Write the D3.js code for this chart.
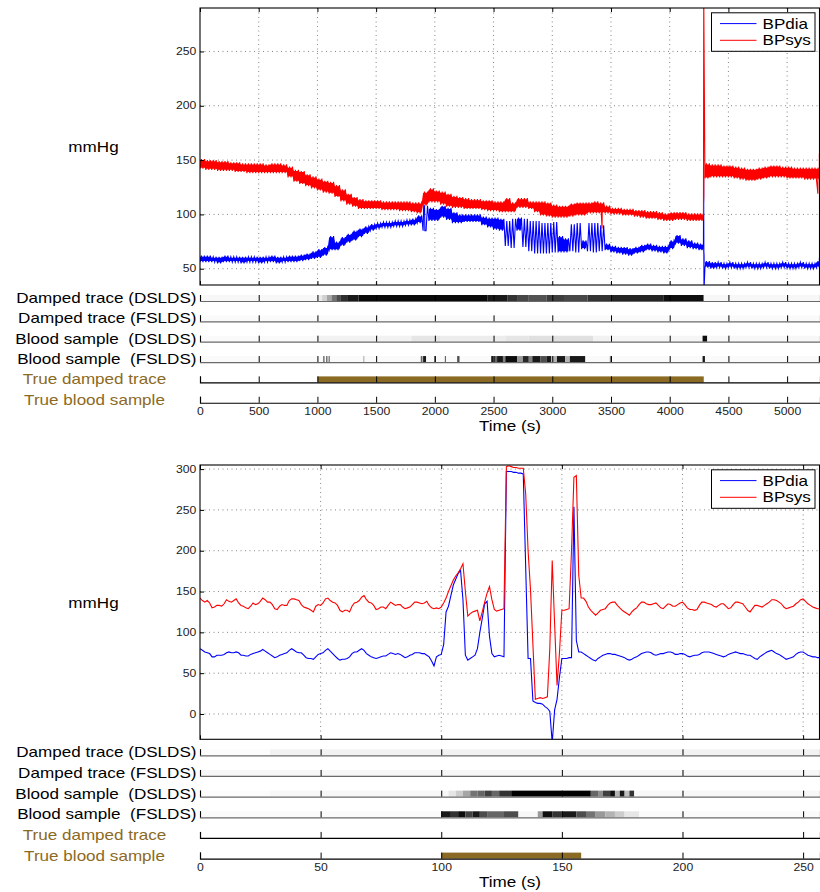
<!DOCTYPE html>
<html>
<head>
<meta charset="utf-8">
<script src="https://cdn.jsdelivr.net/npm/d3@7"></script>
<style>
  body { margin: 0; background: #fff; }
  svg { display: block; }
  text { font-family: "Liberation Sans", Arial, sans-serif; }
</style>
</head>
<body>
<div id="viz"></div>
<script>
// ---------- top panel: whole record, min/max per 50 s bin ----------
const topBin = 50; // seconds per bin
const sysLo = [142,141,141,140,140,140,139,139,138,138,138,138,138,138,138,134,130,128,126,124,
  122,120,119,116,112,109,107,105,105,105,105,104,104,104,103,103,102,101,108,111,
  111,109,107,106,106,105,105,105,104,103,103,102,102,102,106,106,105,102,99,98,
  97,97,97,98,99,99,101,101,101,101,100,100,99,99,98,97,96,96,95,94,
  94,95,95,94,94,94,133,134,134,134,134,133,132,131,131,132,133,134,134,134,
  133,133,133,132,132,132];
const sysHi = [151,150,150,149,149,148,148,147,147,147,147,146,147,147,146,144,141,140,137,135,
  133,131,130,127,123,119,116,114,113,113,113,112,112,112,112,112,111,111,121,124,
  122,121,119,117,116,115,114,114,113,113,112,112,115,111,115,115,112,112,112,111,
  109,108,108,110,111,111,111,112,111,108,106,106,105,105,104,104,103,103,102,101,
  102,102,102,101,101,101,147,146,146,145,145,144,143,142,142,143,144,145,145,144,
  144,143,143,143,143,143];
const diaLo = [56,56,56,55,56,56,56,55,56,56,55,56,56,55,56,56,56,57,58,59,
  60,62,67,67,71,74,76,79,82,85,87,88,88,89,89,90,90,92,85,94,
  94,97,95,92,92,93,93,93,90,88,86,85,71,69,85,70,66,64,64,64,
  65,65,65,66,65,68,66,65,66,67,65,64,63,62,64,65,67,66,65,64,
  68,73,71,69,68,67,51,50,51,50,51,50,50,51,50,50,51,50,50,51,
  50,50,51,50,50,51];
const diaHi = [62,62,61,61,62,61,61,61,61,61,61,61,62,61,61,62,62,63,64,66,
  68,70,80,75,79,82,85,87,89,91,92,93,93,94,94,95,96,99,108,106,
  105,108,106,102,100,100,100,100,98,97,97,96,94,96,97,96,94,94,92,92,
  93,80,78,91,92,76,92,92,90,73,71,70,70,69,70,72,73,72,71,71,
  76,81,78,76,74,73,57,56,56,55,56,55,55,56,55,55,56,55,55,56,
  55,55,56,55,55,57];
// isolated spikes [time s, mmHg]
const sysSpikes = [[3424, 87], [4290, 300], [5262, 119], [5275, 156]];
const diaSpikes = [[1905, 108], [1915, 85], [4289, 133], [4292, 30], [5275, 60]];

// state probabilities, segments [from s, to s, darkness]
const topDampedDS = [[0,1000,0.03],[1000,1040,0.08],[1040,1080,0.18],[1080,1120,0.35],[1120,1160,0.55],
  [1160,1200,0.7],[1200,1260,0.82],[1260,1350,0.9],[1350,2450,0.96],[2450,2620,0.9],[2620,2700,0.8],
  [2700,2800,0.72],[2800,2950,0.68],[2950,3100,0.76],[3100,3300,0.72],[3300,3500,0.8],[3500,3950,0.86],
  [3950,4290,0.94],[4290,5280,0.03]];
const topDampedFS = [[0,5280,0.02]];
const topBloodDS = [[0,1000,0.02],[1000,1800,0.05],[1800,2050,0.1],[2050,2600,0.07],[2600,2800,0.1],
  [2800,3350,0.12],[3350,3500,0.05],[3500,4280,0.04],[4280,4320,0.95],[4320,5280,0.03]];
const topBloodFS = [[0,5280,0.02],[1050,1060,0.7],[1075,1085,0.7],[1095,1105,0.6],[1390,1400,0.3],
  [1880,1895,0.6],[1900,1925,0.9],[1995,2005,0.7],[2085,2095,0.6],[2190,2210,0.7],
  [2480,2500,0.9],[2500,2530,0.6],[2530,2580,0.9],[2580,2600,0.5],[2600,2700,0.95],[2700,2750,0.4],
  [2750,2800,0.85],[2800,2830,0.5],[2830,2900,0.9],[2900,2950,0.7],[2950,2990,0.9],[2990,3040,0.3],
  [3040,3110,0.9],[3110,3150,0.3],[3150,3280,0.9],[3490,3505,0.5],[4280,4300,0.9],[5270,5280,0.9]];
const topTrueDamped = [[1000, 4290]];
const topTrueBlood = [];

// ---------- bottom panel: zoom, one value per second ----------
const zoomSys = [
  142,139,137,139,136,130,131,133,133,132, 135,140,138,137,139,141,136,133,132,130,
  129,132,136,134,135,138,142,140,137,137, 134,129,128,132,134,133,133,139,141,141,
  140,139,134,131,130,129,127,125,132,134, 133,136,141,142,139,137,136,133,127,125,
  127,127,125,132,136,137,139,143,145,140, 137,136,133,128,129,131,131,129,133,137,
  135,133,134,134,131,129,130,131,134,137, 137,136,135,136,138,133,130,129,130,129,
  131,136,142,150,157,164,169,173,178,184, 150,120,123,125,126,127,114,125,137,148,
  156,140,128,126,127,128,129,303,304,303, 302,302,301,301,301,270,200,152,85,18,
  19,20,19,20,21,80,188,110,35,75, 127,127,128,129,200,290,292,170,142,142,
  138,131,127,124,121,124,127,128,129,133, 136,137,137,133,130,127,125,123,121,125,
  128,130,134,137,137,135,134,134,135,136, 133,130,129,132,135,134,132,132,134,136,
  137,134,130,128,128,127,128,133,137,137, 136,135,134,132,131,133,135,135,132,129,
  130,134,137,137,136,135,131,127,125,129, 133,133,132,131,133,135,137,140,140,139,
  137,135,131,129,130,131,132,135,137,140, 141,138,135,133,131,130,129,129];
const zoomDia = [
  80,78,76,75,74,70,70,72,72,72, 73,75,76,75,75,76,75,72,72,71,
  71,73,74,75,76,77,79,77,75,73, 71,69,70,72,73,74,75,78,80,78,
  76,75,75,72,69,68,68,67,70,73, 74,75,78,80,77,74,71,68,66,67,
  67,68,70,74,76,76,78,80,78,74, 72,70,69,68,69,70,71,71,73,75,
  74,73,74,73,71,69,70,72,73,75, 75,75,74,74,72,70,65,59,70,72,
  73,85,125,132,145,158,165,172,176,140, 72,66,68,70,72,80,100,117,135,138,
  95,74,70,71,72,71,70,297,297,297, 296,296,295,295,294,180,68,68,16,14,
  13,13,12,9,7,3,-35,5,18,45, 68,68,68,69,69,254,90,76,76,74,
  72,70,68,66,65,68,70,72,73,74, 74,73,73,72,71,70,69,67,66,67,
  69,70,72,74,75,76,76,75,73,72, 73,74,74,75,76,76,75,73,73,74,
  74,73,71,70,71,72,72,73,75,76, 76,76,75,74,73,72,71,70,71,73,
  74,75,76,75,74,74,73,72,72,70, 68,67,70,72,74,76,77,78,76,74,
  73,71,69,67,68,69,70,73,75,76, 76,74,72,71,70,70,69,69];

const zoomDampedDS = [[0,29,0.01],[29,257,0.05]];
const zoomDampedFS = [[0,257,0.03]];
const zoomBloodDS = [[0,29,0.01],[29,103,0.03],[103,106,0.1],[106,109,0.2],[109,112,0.35],[112,115,0.55],
  [115,118,0.6],[118,121,0.75],[121,124,0.6],[124,129,0.8],[129,162,1.0],[162,165,0.6],[165,167,0.45],
  [167,170,0.75],[170,172,0.95],[172,174,0.3],[174,176,0.9],[176,178,0.25],[178,180,0.8],[180,257,0.03]];
const zoomBloodFS = [[0,100,0.02],[100,104,0.9],[104,107,0.8],[107,110,0.95],[110,113,0.75],[113,116,0.9],
  [116,119,0.7],[119,126,0.6],[126,132,0.7],[132,140,0.03],[140,142,0.4],[142,146,0.95],[146,150,0.8],
  [150,156,0.9],[156,160,0.7],[160,164,0.55],[164,168,0.4],[168,172,0.3],[172,176,0.2],[176,182,0.1],
  [182,257,0.02]];
const zoomTrueDamped = [];
const zoomTrueBlood = [[100, 158]];

const stripNames = ["Damped trace (DSLDS)", "Damped trace (FSLDS)", "Blood sample  (DSLDS)",
  "Blood sample  (FSLDS)", "True damped trace", "True blood sample"];
const seriesNames = ["BPdia", "BPsys"];
const topXTicks = d3.range(0, 5001, 500);
const topYTicks = [50, 100, 150, 200, 250];
const zoomXTicks = [0, 50, 100, 150, 200, 250];
const zoomYTicks = [0, 50, 100, 150, 200, 250, 300];

// ---------- drawing ----------
var SX = 1.22; // text in the figure is a bit wide
var brown = "#8b6a24";
var colDia = "#0000ff", colSys = "#ff0000";
var svg = d3.select("#viz").append("svg").attr("width", 820).attr("height", 892);

function stext(g, x, y, s, anchor, size, color) {
  return g.append("text")
    .attr("transform", "translate(" + x + "," + y + ") scale(" + SX + ",1)")
    .attr("text-anchor", anchor)
    .style("font-size", size + "px")
    .style("fill", color || "#000")
    .style("white-space", "pre")
    .text(s);
}

// zig-zag through the min/max of each bin, plus isolated spikes
function envelope(lo, hi, bin, spikes) {
  var pts = [];
  lo.forEach(function (v, i) {
    var t = i * bin;
    pts.push([t, v], [t + bin / 4, hi[i]], [t + bin / 2, v], [t + 3 * bin / 4, hi[i]]);
  });
  spikes.forEach(function (s) { pts.push(s); });
  pts.sort(function (a, b) { return a[0] - b[0]; });
  return pts;
}

// filled min/max band (left open where the signal is spiky)
function band(lo, hi, bin) {
  var pts = [];
  lo.forEach(function (v, i) {
    pts.push([i * bin, v, hi[i]], [i * bin + 0.75 * bin, v, hi[i]]);
  });
  return pts;
}

function drawPanel(cfg) {
  var g = svg.append("g");
  var x = d3.scaleLinear().domain(cfg.xDomain).range([200, 820]);
  var y = d3.scaleLinear().domain(cfg.yDomain).range([cfg.bottom, cfg.top]);

  var clipId = "clip" + cfg.id;
  g.append("clipPath").attr("id", clipId).append("rect")
    .attr("x", 200).attr("y", cfg.top).attr("width", 620).attr("height", cfg.bottom - cfg.top);

  // dotted grid
  var grid = g.append("g").attr("stroke", "#666").attr("stroke-width", 0.8)
    .attr("stroke-dasharray", "1,3.5");
  grid.selectAll(".gx").data(cfg.xTicks.filter(function (d) { return d > cfg.xDomain[0]; }))
    .enter().append("line")
    .attr("x1", function (d) { return x(d); }).attr("x2", function (d) { return x(d); })
    .attr("y1", cfg.top).attr("y2", cfg.bottom);
  grid.selectAll(".gy").data(cfg.yTicks).enter().append("line")
    .attr("x1", 200).attr("x2", 820)
    .attr("y1", function (d) { return y(d); }).attr("y2", function (d) { return y(d); });

  // traces
  var line = d3.line().x(function (d) { return x(d[0]); }).y(function (d) { return y(d[1]); });
  var area = d3.area()
    .defined(function (d) { return d[2] - d[1] <= 15; })
    .x(function (d) { return x(d[0]); })
    .y0(function (d) { return y(d[1] + 1); })
    .y1(function (d) { return y(d[2] - 1); });
  var traces = g.append("g").attr("clip-path", "url(#" + clipId + ")");
  [[cfg.diaBand, cfg.dia, colDia], [cfg.sysBand, cfg.sys, colSys]].forEach(function (s) {
    if (s[0]) traces.append("path").attr("d", area(s[0])).attr("fill", s[2]);
    traces.append("path").attr("d", line(s[1])).attr("fill", "none")
      .attr("stroke", s[2]).attr("stroke-width", cfg.lw);
  });

  // box and inward ticks
  g.append("rect").attr("x", 200).attr("y", cfg.top).attr("width", 619.5)
    .attr("height", cfg.bottom - cfg.top).attr("fill", "none").attr("stroke", "#000").attr("stroke-width", 1.1);
  g.append("g").attr("transform", "translate(0," + cfg.bottom + ")")
    .call(d3.axisBottom(x).tickValues(cfg.xTicks).tickSize(-4).tickSizeOuter(0).tickFormat(""))
    .select(".domain").remove();
  g.append("g").attr("transform", "translate(0," + cfg.top + ")")
    .call(d3.axisTop(x).tickValues(cfg.xTicks).tickSize(-4).tickSizeOuter(0).tickFormat(""))
    .select(".domain").remove();
  var ya = g.append("g").attr("transform", "translate(200,0)")
    .call(d3.axisLeft(y).tickValues(cfg.yTicks).tickSize(-4).tickSizeOuter(0).tickPadding(3));
  ya.select(".domain").remove();
  ya.attr("font-family", null).attr("font-size", null);
  ya.selectAll("text").attr("transform", "scale(" + SX + ",1)").style("font-size", "10px").style("fill", "#222");

  stext(g, 93.5, (cfg.top + cfg.bottom) / 2 + 5.5, "mmHg", "middle", 14);

  // legend
  var lg = g.append("g").attr("transform", "translate(711.5," + (cfg.top + 4.8) + ")");
  lg.append("rect").attr("width", 103.5).attr("height", 38.5).attr("fill", "#fff")
    .attr("stroke", "#000").attr("stroke-width", 1);
  [colDia, colSys].forEach(function (c, i) {
    var yy = 10.8 + i * 16.7;
    lg.append("line").attr("x1", 8.5).attr("x2", 45).attr("y1", yy).attr("y2", yy)
      .attr("stroke", c).attr("stroke-width", 1);
    stext(lg, 51, yy + 5, seriesNames[i], "start", 14);
  });

  // state strips
  cfg.strips.forEach(function (segs, r) {
    var yb = cfg.bottom + 16 + r * cfg.gap;
    var sg = g.append("g");
    var isTrue = r >= 4;
    sg.selectAll("rect").data(segs).enter().append("rect")
      .attr("x", function (d) { return x(d[0]); })
      .attr("width", function (d) { return Math.max(0.8, x(Math.min(d[1], cfg.xDomain[1])) - x(d[0])); })
      .attr("y", yb - 6).attr("height", 6)
      .attr("fill", function (d) {
        if (isTrue) return brown;
        var v = Math.round(255 * (1 - d[2]));
        return d3.rgb(v, v, v);
      });
    var ax = sg.append("g").attr("transform", "translate(0," + yb + ")")
      .call(d3.axisBottom(x).tickValues(cfg.xTicks).tickSize(-6).tickSizeOuter(-6).tickPadding(5)
        .tickFormat(r === 5 ? d3.format("d") : ""));
    ax.attr("font-family", null).attr("font-size", null);
    ax.select(".domain").attr("stroke", isTrue ? "#000" : "#6a6a6a").attr("stroke-width", 1.2);
    ax.selectAll("text").attr("transform", "scale(" + SX + ",1)").style("font-size", "10px").style("fill", "#222");
    if (isTrue) stext(g, 94.5, yb + 2, stripNames[r], "middle", 14, brown);
    else stext(g, 196.5, yb + 2, stripNames[r], "end", 14);
  });

  var lastBase = cfg.bottom + 16 + 5 * cfg.gap;
  stext(g, 510, lastBase + 28, "Time (s)", "middle", 14);
}

drawPanel({
  id: "top", top: 8, bottom: 285, gap: 20.35, lw: 1.1,
  xDomain: [0, 5280], yDomain: [35, 290], xTicks: topXTicks, yTicks: topYTicks,
  dia: envelope(diaLo, diaHi, topBin, diaSpikes),
  sys: envelope(sysLo, sysHi, topBin, sysSpikes),
  diaBand: band(diaLo, diaHi, topBin),
  sysBand: band(sysLo, sysHi, topBin),
  strips: [topDampedDS, topDampedFS, topBloodDS, topBloodFS, topTrueDamped, topTrueBlood]
});

drawPanel({
  id: "zoom", top: 465, bottom: 739.3, gap: 20.66, lw: 1.1,
  xDomain: [0, 257], yDomain: [-31, 305], xTicks: zoomXTicks, yTicks: zoomYTicks,
  dia: zoomDia.map(function (v, i) { return [i, v]; }),
  sys: zoomSys.map(function (v, i) { return [i, v]; }),
  strips: [zoomDampedDS, zoomDampedFS, zoomBloodDS, zoomBloodFS, zoomTrueDamped, zoomTrueBlood]
});
</script>
</body>
</html>
